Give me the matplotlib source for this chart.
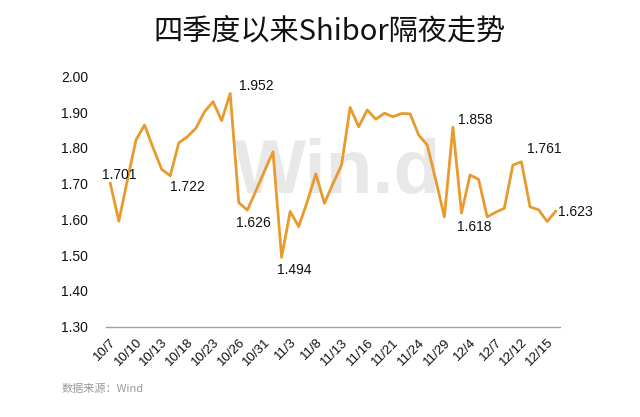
import matplotlib
matplotlib.use("Agg")
import matplotlib.pyplot as plt

dates = ["10/7", "10/8", "10/9", "10/10", "10/11", "10/12", "10/13", "10/16", "10/17", "10/18",
         "10/19", "10/20", "10/23", "10/24", "10/25", "10/26", "10/27", "10/30", "10/31", "11/1",
         "11/2", "11/3", "11/6", "11/7", "11/8", "11/9", "11/10", "11/13", "11/14", "11/15",
         "11/16", "11/17", "11/20", "11/21", "11/22", "11/23", "11/24", "11/27", "11/28", "11/29",
         "11/30", "12/1", "12/4", "12/5", "12/6", "12/7", "12/8", "12/11", "12/12", "12/13",
         "12/14", "12/15", "12/18"]
values = [1.701, 1.595, 1.710, 1.822, 1.864, 1.800, 1.740, 1.722, 1.814, 1.831,
          1.855, 1.901, 1.929, 1.876, 1.952, 1.647, 1.626, 1.680, 1.735, 1.789,
          1.494, 1.622, 1.580, 1.650, 1.727, 1.645, 1.700, 1.752, 1.913, 1.859,
          1.906, 1.880, 1.897, 1.887, 1.896, 1.895, 1.836, 1.808, 1.710, 1.607,
          1.858, 1.618, 1.724, 1.712, 1.607, 1.620, 1.631, 1.752, 1.761, 1.635,
          1.627, 1.594, 1.623]
label_step = 3
annot_idx = [0, 7, 14, 16, 20, 40, 41, 48, 52]
annot_offsets = {0: (9, 8), 7: (17, -11), 14: (26, 7), 16: (6, -13), 20: (13, -13),
                 40: (22, 7), 41: (13, -14), 48: (23, 13), 52: (20, -1)}

plt.rcParams['font.family'] = ['Liberation Sans', 'Noto Sans CJK SC', 'DejaVu Sans']

fig = plt.figure(figsize=(6.4, 4.17), dpi=100)
ax = fig.add_axes([0.1656, 0.2165, 0.7094, 0.6005])

line_color = '#E99A2C'
x = list(range(len(values)))

# watermark (inside axes, beneath the line)
ax.text(0.527, 0.585, "Win.d", fontsize=55, color='#e8e8e8', fontweight='bold',
        ha='center', va='center', zorder=1, family='Liberation Sans',
        transform=fig.transFigure)

ax.plot(x, values, color=line_color, linewidth=2.0, zorder=3)

for i in annot_idx:
    dx, dy = annot_offsets[i]
    ax.annotate(f"{values[i]:.3f}", (x[i], values[i]), xytext=(dx, dy),
                textcoords='offset pixels', ha='center', va='center',
                fontsize=10, color='#111111', zorder=4)

ax.set_xlim(-0.5, len(values) - 0.5)
ax.set_ylim(1.30, 2.00)
yt = [1.30, 1.40, 1.50, 1.60, 1.70, 1.80, 1.90, 2.00]
ax.set_yticks(yt)
ax.set_yticklabels([f"{v:.2f}" for v in yt])
ticks = list(range(0, len(values), label_step))
ax.set_xticks(ticks)
ax.set_xticklabels([dates[i] for i in ticks], rotation=45, ha='right',
                   rotation_mode='anchor', fontsize=9.5)

for s in ['top', 'right', 'left']:
    ax.spines[s].set_visible(False)
ax.spines['bottom'].set_color('#a0a0a0')
ax.spines['bottom'].set_linewidth(1.0)
ax.tick_params(axis='y', length=0, pad=13, labelsize=10, labelcolor='#111111')
ax.tick_params(axis='x', length=0, pad=7, labelcolor='#111111')

fig.text(0.515, 0.925, "四季度以来Shibor隔夜走势", fontsize=21, ha='center', va='center',
         family=['Noto Sans CJK SC', 'DejaVu Sans'], color='#111111')
fig.text(0.097, 0.068, "数据来源：Wind", fontsize=8, ha='left', va='center',
         family=['Noto Sans CJK SC', 'DejaVu Sans'], color='#999999')

fig.savefig("out.png", dpi=100)
